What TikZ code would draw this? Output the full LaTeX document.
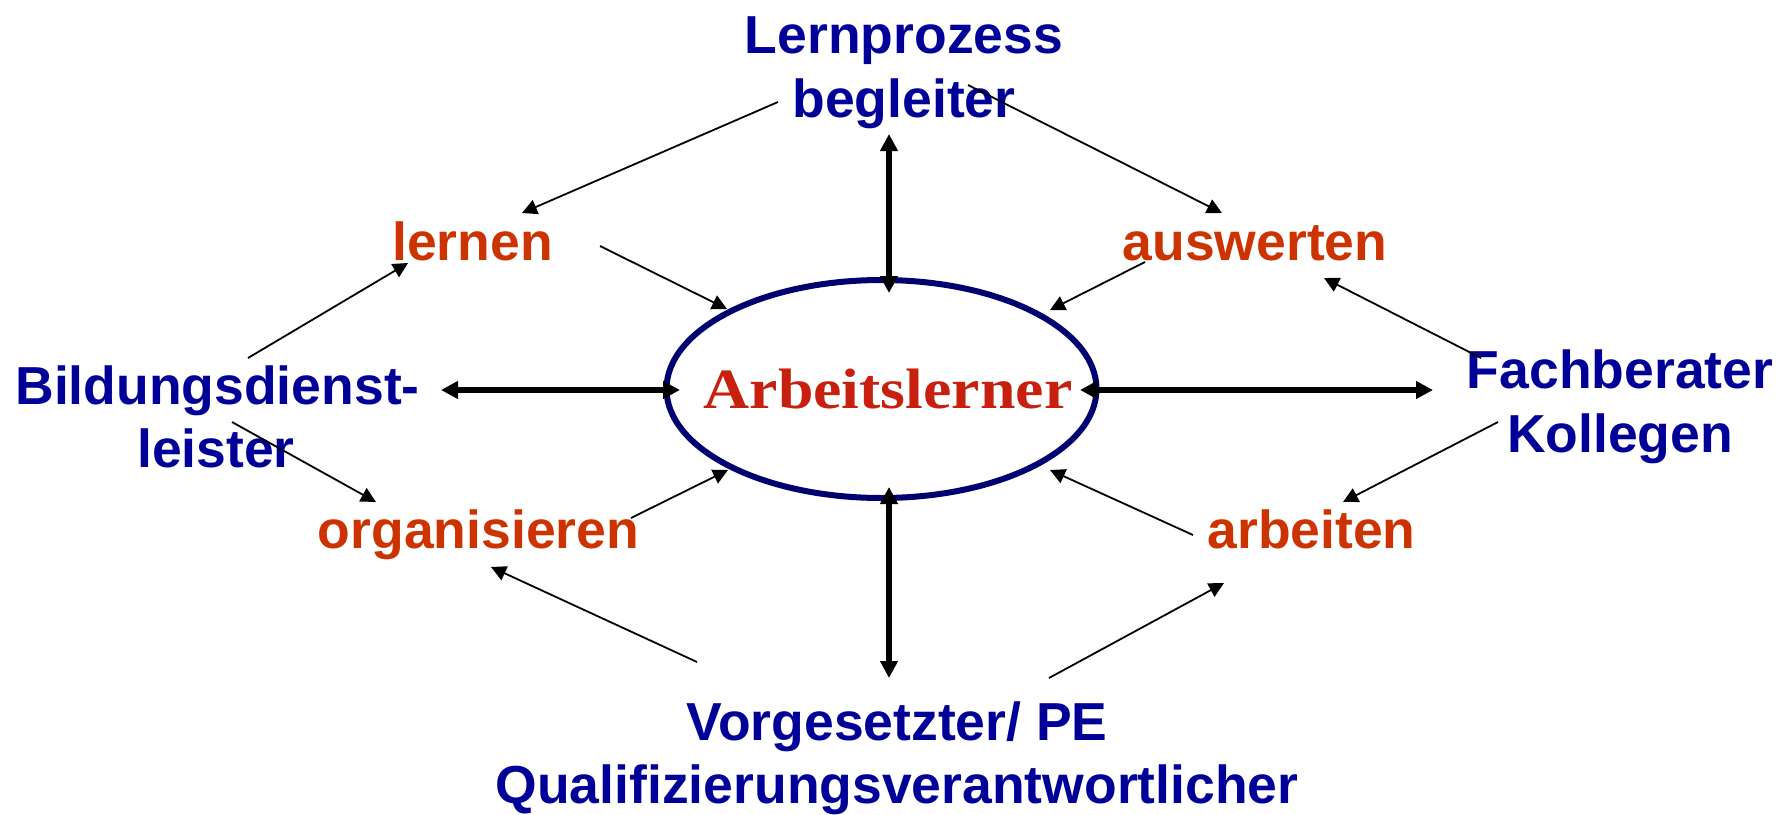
\documentclass[tikz,border=0pt]{standalone}
\usepackage{fontspec}
\setmainfont{Liberation Sans}
\newfontfamily\serfont{Liberation Serif}
\usetikzlibrary{arrows.meta,shapes.geometric}
\definecolor{blu}{HTML}{000099}
\definecolor{org}{HTML}{CC3300}
\definecolor{rd}{HTML}{C8200F}
\definecolor{nav}{HTML}{000070}
\begin{document}
\begin{tikzpicture}[x=1pt,y=-1pt,
  lbl/.style={inner sep=0pt, anchor=base, font=\fontsize{53.5}{64}\selectfont\bfseries, text=blu},
  act/.style={lbl, text=org},
  thinarr/.style={line width=1.8pt, -{Triangle[length=15pt,width=15pt]}},
  thickarr/.style={line width=5.5pt, {Triangle[length=17pt,width=17pt]}-{Triangle[length=17pt,width=17pt]}}
]
\useasboundingbox[fill=white] (0,0) rectangle (1780,814);

% labels
\node[lbl] (lp1) at (904,53) {Lernprozess};
\node[lbl] (lp2) at (904,117) {begleiter};
\node[act] (lernen) at (472.5,260) {lernen};
\node[act] (ausw) at (1255,260) {auswerten};
\node[lbl] (bd1) at (217.5,404) {Bildungsdienst-};
\node[lbl] (bd2) at (216,467) {leister};
\node[act] (orga) at (478.5,548) {organisieren};
\node[act] (arb) at (1311.5,548) {arbeiten};
\node[lbl] (fb1) at (1620,388) {Fachberater};
\node[lbl] (fb2) at (1620,452) {Kollegen};
\node[lbl] (vg1) at (897,740) {Vorgesetzter/ PE};
\node[lbl] (vg2) at (897,803) {Qualifizierungsverantwortlicher};

% centre
\node[ellipse, draw=nav, line width=6pt, inner sep=0pt, minimum width=430pt, minimum height=218pt] (ell) at (881.5,389) {};
\node[inner sep=0pt, anchor=base, text=rd, font=\serfont\fontsize{57}{60}\selectfont\bfseries, xscale=1.12] (al) at (888,408) {Arbeitslerner};

% thin arrow end points
\coordinate (a1s) at (778,102);  \coordinate (a1e) at (522,213);
\coordinate (a2s) at (968,85);   \coordinate (a2e) at (1222,213);
\coordinate (a3s) at (600,246);  \coordinate (a3e) at (727,309);
\coordinate (a4s) at (1145,262); \coordinate (a4e) at (1050,310);
\coordinate (a5s) at (1481,358); \coordinate (a5e) at (1324,278);
\coordinate (a6s) at (1498,422); \coordinate (a6e) at (1343,502);
\coordinate (a7s) at (1193,535); \coordinate (a7e) at (1050,470);
\coordinate (a8s) at (1049,678); \coordinate (a8e) at (1224,583);
\coordinate (a9s) at (697,662);  \coordinate (a9e) at (491,567);
\coordinate (a10s) at (631,518); \coordinate (a10e) at (728,470);
\coordinate (a11s) at (232,422); \coordinate (a11e) at (376,502);
\coordinate (a12s) at (248,358); \coordinate (a12e) at (408,263);

\foreach \i in {1,...,12} \draw[thinarr] (a\i s) -- (a\i e);

% thick double arrows
\coordinate (tt) at (889,134);  \coordinate (tb) at (889,293);
\coordinate (bt) at (889,487);  \coordinate (bb) at (889,678);
\coordinate (ll) at (441,390);  \coordinate (lr) at (680,390);
\coordinate (rl) at (1080,390); \coordinate (rr) at (1433,390);
\draw[thickarr] (tt) -- (tb);
\draw[thickarr] (bt) -- (bb);
\draw[thickarr] (ll) -- (lr);
\draw[thickarr] (rl) -- (rr);
\end{tikzpicture}
\end{document}
